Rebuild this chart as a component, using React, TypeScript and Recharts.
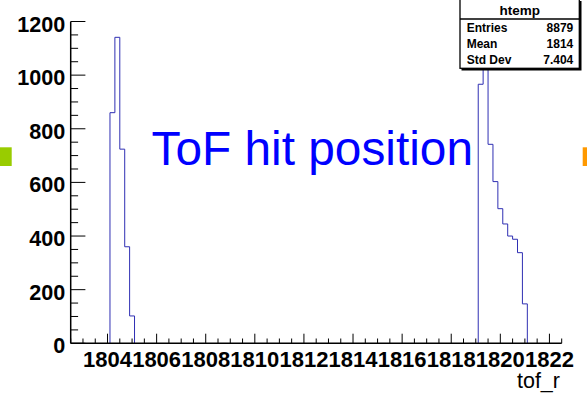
import { LineChart, Line, XAxis, YAxis } from "recharts";

// histogram bins (low edges, last edge closes the cluster)
const leftBinEdges = [1804.1, 1804.3, 1804.5, 1804.7, 1804.9, 1805.1];
const leftBinCounts = [860, 1141, 724, 360, 102, 0];
const rightBinEdges = [
  1819.1, 1819.3, 1819.5, 1819.7, 1819.9, 1820.1, 1820.3, 1820.5, 1820.7,
  1820.9, 1821.1,
];
const rightBinCounts = [966, 1161, 742, 603, 502, 445, 400, 388, 338, 147, 0];

const xDomain = [1802.5, 1822.5];
const xTicks = [
  1802.5, 1803, 1803.5, 1804, 1804.5, 1805, 1805.5, 1806, 1806.5, 1807,
  1807.5, 1808, 1808.5, 1809, 1809.5, 1810, 1810.5, 1811, 1811.5, 1812,
  1812.5, 1813, 1813.5, 1814, 1814.5, 1815, 1815.5, 1816, 1816.5, 1817,
  1817.5, 1818, 1818.5, 1819, 1819.5, 1820, 1820.5, 1821, 1821.5, 1822,
  1822.5,
];
const xTickLabels = [
  "1804", "1806", "1808", "1810", "1812", "1814", "1816", "1818", "1820",
  "1822",
];

const yDomain = [0, 1200];
const yTicks = [
  0, 50, 100, 150, 200, 250, 300, 350, 400, 450, 500, 550, 600, 650, 700,
  750, 800, 850, 900, 950, 1000, 1050, 1100, 1150, 1200,
];
const yTickLabels = ["0", "200", "400", "600", "800", "1000", "1200"];

const statNames = ["Entries", "Mean", "Std Dev"];
const statValues = ["8879", "1814", "7.404"];

const FONT = "'Liberation Sans', Arial, Helvetica, sans-serif";
const HIST_COLOR = "#2f2fb3";

const toSteps = (edges: number[], counts: number[]) => [
  { x: edges[0], y: 0 },
  ...edges.map((e, i) => ({ x: e, y: counts[i] })),
];

const leftData = toSteps(leftBinEdges, leftBinCounts);
const rightData = toSteps(rightBinEdges, rightBinCounts);

const isXMajor = (v: number) => xTickLabels.includes(String(v));
const isYMajor = (v: number) => yTickLabels.includes(String(v));

// eslint-disable-next-line @typescript-eslint/no-explicit-any
function BottomTick(props: any) {
  const { x, y, payload } = props;
  const major = isXMajor(payload.value);
  return (
    <g>
      <line x1={x} x2={x} y1={y} y2={y - (major ? 9.6 : 4.8)} stroke="#000" strokeWidth={1} />
      {major && (
        <text
          x={x}
          y={y + 23.4}
          textAnchor="middle"
          fontFamily={FONT}
          fontWeight="bold"
          fontSize={22}
          fill="#000"
        >
          {String(payload.value)}
        </text>
      )}
    </g>
  );
}

// eslint-disable-next-line @typescript-eslint/no-explicit-any
function TopTick(props: any) {
  const { x, y, payload } = props;
  const major = isXMajor(payload.value);
  return (
    <line x1={x} x2={x} y1={y} y2={y + (major ? 9.6 : 4.8)} stroke="#000" strokeWidth={1} />
  );
}

// eslint-disable-next-line @typescript-eslint/no-explicit-any
function LeftTick(props: any) {
  const { x, y, payload } = props;
  const major = isYMajor(payload.value);
  return (
    <g>
      <line x1={x} x2={x + (major ? 14.7 : 7.4)} y1={y} y2={y} stroke="#000" strokeWidth={1} />
      {major && (
        <text
          x={x - 5.5}
          y={y + 10}
          textAnchor="end"
          fontFamily={FONT}
          fontWeight="bold"
          fontSize={21.6}
          fill="#000"
        >
          {String(payload.value)}
        </text>
      )}
    </g>
  );
}

// eslint-disable-next-line @typescript-eslint/no-explicit-any
function RightTick(props: any) {
  const { x, y, payload } = props;
  const major = isYMajor(payload.value);
  return (
    <line x1={x} x2={x - (major ? 14.7 : 7.4)} y1={y} y2={y} stroke="#000" strokeWidth={1} />
  );
}

export default function App() {
  const axisLine = { stroke: "#000", strokeWidth: 1.5 };
  return (
    <div
      style={{
        position: "relative",
        width: 587,
        height: 394,
        background: "#fff",
        overflow: "hidden",
      }}
    >
      <style>{`body { margin: 0; }`}</style>
      <LineChart
        width={587}
        height={394}
        margin={{ top: 21.5, right: 25.3, bottom: 0, left: 0 }}
      >
        <XAxis
          dataKey="x"
          type="number"
          domain={xDomain}
          ticks={xTicks}
          interval={0}
          allowDataOverflow
          tickSize={0}
          tickMargin={0}
          tickLine={false}
          axisLine={axisLine}
          height={50.7}
          tick={(p) => <BottomTick {...p} />}
        />
        <XAxis
          xAxisId="top"
          orientation="top"
          dataKey="x"
          type="number"
          domain={xDomain}
          ticks={xTicks}
          interval={0}
          allowDataOverflow
          tickSize={0}
          tickMargin={0}
          tickLine={false}
          axisLine={axisLine}
          height={0}
          tick={(p) => <TopTick {...p} />}
        />
        <YAxis
          type="number"
          domain={yDomain}
          ticks={yTicks}
          interval={0}
          allowDataOverflow
          tickSize={0}
          tickMargin={0}
          tickLine={false}
          axisLine={axisLine}
          width={70.7}
          tick={(p) => <LeftTick {...p} />}
        />
        <YAxis
          yAxisId="right"
          orientation="right"
          type="number"
          domain={yDomain}
          ticks={yTicks}
          interval={0}
          allowDataOverflow
          tickSize={0}
          tickMargin={0}
          tickLine={false}
          axisLine={axisLine}
          width={0}
          tick={(p) => <RightTick {...p} />}
        />
        <Line
          data={leftData}
          dataKey="y"
          type="stepAfter"
          stroke={HIST_COLOR}
          strokeWidth={1}
          dot={false}
          isAnimationActive={false}
        />
        <Line
          data={rightData}
          dataKey="y"
          type="stepAfter"
          stroke={HIST_COLOR}
          strokeWidth={1}
          dot={false}
          isAnimationActive={false}
        />
      </LineChart>

      {/* overlays: annotation, stats box, slide markers */}
      <svg
        width={587}
        height={394}
        style={{ position: "absolute", left: 0, top: 0, pointerEvents: "none" }}
      >
        <text
          x={151.5}
          y={165}
          fontFamily={FONT}
          fontSize={47.8}
          fill="#0000ff"
        >
          ToF hit position
        </text>

        <text
          x={560}
          y={388}
          textAnchor="end"
          fontFamily={FONT}
          fontSize={21.5}
          fill="#000"
        >
          tof_r
        </text>

        {/* stats box with shadow */}
        <rect x={461.5} y={1} width={120} height={69.5} fill="#000" />
        <rect x={460} y={-1} width={119.3} height={69.3} fill="#fff" stroke="#000" strokeWidth={1.3} />
        <line x1={460} x2={579.3} y1={19} y2={19} stroke="#000" strokeWidth={1.3} />
        <text
          x={519.7}
          y={15}
          textAnchor="middle"
          fontFamily={FONT}
          fontWeight="bold"
          fontSize={13.5}
          fill="#000"
        >
          htemp
        </text>
        {statNames.map((name, i) => (
          <g key={name}>
            <text
              x={466.7}
              y={32.3 + i * 16}
              fontFamily={FONT}
              fontWeight="bold"
              fontSize={12}
              fill="#000"
            >
              {name}
            </text>
            <text
              x={573.3}
              y={32.3 + i * 16}
              textAnchor="end"
              fontFamily={FONT}
              fontWeight="bold"
              fontSize={12}
              fill="#000"
            >
              {statValues[i]}
            </text>
          </g>
        ))}

        <rect x={0} y={147.3} width={11.7} height={18.7} fill="#99cc00" />
        <rect x={582.7} y={147.3} width={5} height={18.7} fill="#ff9900" />
      </svg>
    </div>
  );
}
